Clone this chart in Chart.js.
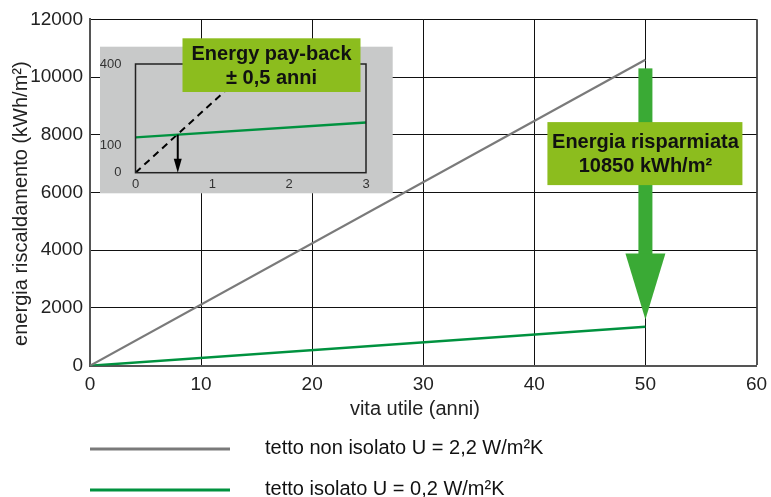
<!DOCTYPE html>
<html>
<head>
<meta charset="utf-8">
<script src="https://cdn.jsdelivr.net/npm/chart.js@4.4.0/dist/chart.umd.min.js"></script>
<style>
  html, body { margin: 0; padding: 0; background: #fff; }
  #wrap { position: relative; width: 771px; height: 497px; }
  #main { position: absolute; left: 0; top: 0; }
  #inset { position: absolute; left: 100px; top: 30px; }
</style>
</head>
<body>
<div id="wrap">
  <canvas id="main" width="771" height="497"></canvas>
  <canvas id="inset" width="300" height="170"></canvas>
</div>
<script>
// main chart data
const years = [0, 50];
const uninsulated = [0, 10600];
const insulated = [0, 1350];
const seriesLabels = ["tetto non isolato U = 2,2 W/m²K", "tetto isolato U = 0,2 W/m²K"];
const xTicks = [0, 10, 20, 30, 40, 50, 60];
const yTicks = [0, 2000, 4000, 6000, 8000, 10000, 12000];

// saved energy arrow (year, from, to)
const savingYear = 50;
const savingFrom = 10300;
const savingTo = 1600;
const savingLabel = ["Energia risparmiata", "10850 kWh/m²"];

// inset: first 3 years
const insetYears = [0, 3];
const insetInsulated = [130, 185];
const paybackYears = [0, 1.55];
const paybackEnergy = [0, 400];
const paybackYear = 0.55;
const insetXTicks = [0, 1, 2, 3];
const insetYTicks = [0, 100, 400];
const paybackLabel = ["Energy pay-back", "± 0,5 anni"];

const FONT = '"Liberation Sans", Arial, sans-serif';
const GREEN = "#00923f";
const GREY = "#7a7a7a";
const BOX = "#8cbd1e";
const ARROW = "#3aaa35";
const NBSP = "\u00a0";

function pairs(xs, ys) {
  return xs.map((x, i) => ({ x: x, y: ys[i] }));
}

// Arrow, label box and legend for the main chart
const mainDecor = {
  id: "mainDecor",
  afterDatasetsDraw(chart) {
    const { ctx } = chart;
    const x = chart.scales.x;
    const y = chart.scales.y;
    const cx = x.getPixelForValue(savingYear);
    const top = y.getPixelForValue(savingFrom);
    const tip = y.getPixelForValue(savingTo);
    const headTop = tip - 66;

    ctx.save();
    ctx.fillStyle = ARROW;
    ctx.fillRect(cx - 7, top, 14, headTop - top + 1);
    ctx.beginPath();
    ctx.moveTo(cx - 20, headTop);
    ctx.lineTo(cx + 20, headTop);
    ctx.lineTo(cx, tip);
    ctx.closePath();
    ctx.fill();

    // label box over the arrow
    const by = y.getPixelForValue(7330);
    ctx.fillStyle = BOX;
    ctx.fillRect(cx - 98, by - 32, 195, 63);
    ctx.fillStyle = "#111";
    ctx.font = "bold 20px " + FONT;
    ctx.textAlign = "center";
    ctx.textBaseline = "middle";
    ctx.fillText(savingLabel[0], cx, by - 12);
    ctx.fillText(savingLabel[1], cx, by + 12);

    // legend, one row per series
    chart.data.datasets.forEach((ds, i) => {
      const ly = 449 + i * 41;
      ctx.strokeStyle = ds.borderColor;
      ctx.lineWidth = 3;
      ctx.beginPath();
      ctx.moveTo(90, ly);
      ctx.lineTo(230, ly);
      ctx.stroke();
      ctx.fillStyle = "#111";
      ctx.font = "20px " + FONT;
      ctx.textAlign = "left";
      ctx.fillText(ds.label, 265, ly - 1);
    });
    ctx.restore();
  },
};

new Chart(document.getElementById("main"), {
  type: "line",
  data: {
    datasets: [
      {
        label: seriesLabels[0],
        data: pairs(years, uninsulated),
        borderColor: GREY,
        borderWidth: 2.2,
        pointRadius: 0,
      },
      {
        label: seriesLabels[1],
        data: pairs(years, insulated),
        borderColor: GREEN,
        borderWidth: 2.5,
        pointRadius: 0,
      },
    ],
  },
  options: {
    responsive: false,
    animation: false,
    layout: { padding: { left: 0, right: 14.5, top: 19.3, bottom: 76 } },
    plugins: { legend: { display: false }, tooltip: { enabled: false } },
    scales: {
      x: {
        type: "linear",
        min: 0,
        max: 60,
        afterBuildTicks: (s) => { s.ticks = xTicks.map((v) => ({ value: v })); },
        afterFit: (s) => {
          s.height = 55.3;
          s.paddingLeft = 0;
          s.paddingRight = 0;
        },
        grid: {
          drawTicks: false,
          color: (c) => (c.tick && c.tick.value === 60 ? "#555" : "#111"),
          lineWidth: (c) => (c.tick && c.tick.value === 60 ? 2 : 1),
        },
        border: { color: "#555", width: 2 },
        ticks: { padding: 8, color: "#222", font: { family: FONT, size: 19 } },
        title: {
          display: true,
          text: "vita utile (anni)" + NBSP.repeat(3),
          color: "#222",
          padding: { top: 4, bottom: 0 },
          font: { family: FONT, size: 20 },
        },
      },
      y: {
        min: 0,
        max: 12000,
        afterBuildTicks: (s) => { s.ticks = yTicks.map((v) => ({ value: v })); },
        afterFit: (s) => { s.width = 90; },
        grid: { drawTicks: false, color: "#111", lineWidth: 1 },
        border: { color: "#555", width: 2 },
        ticks: {
          padding: 7,
          color: "#222",
          font: { family: FONT, size: 19 },
          callback: (v) => String(v),
        },
        title: {
          display: true,
          text: "energia riscaldamento (kWh/m²)" + NBSP.repeat(4),
          color: "#222",
          padding: { top: 9, bottom: 0 },
          font: { family: FONT, size: 20 },
        },
      },
    },
  },
  plugins: [mainDecor],
});

// Grey panel, frame, arrow and label of the inset
const insetDecor = {
  id: "insetDecor",
  beforeDraw(chart) {
    const { ctx } = chart;
    ctx.save();
    ctx.fillStyle = "#c8c9c9";
    ctx.fillRect(0, 16.7, 292.7, 146.6);
    ctx.restore();
  },
  afterDatasetsDraw(chart) {
    const { ctx, chartArea: a } = chart;
    const x = chart.scales.x;
    const y = chart.scales.y;
    ctx.save();
    ctx.strokeStyle = "#222";
    ctx.lineWidth = 1.5;
    ctx.strokeRect(a.left, a.top, a.right - a.left, a.bottom - a.top);

    // pay-back arrow down to the x axis
    const ratio = (paybackYear - insetYears[0]) / (insetYears[1] - insetYears[0]);
    const greenAt = insetInsulated[0] + ratio * (insetInsulated[1] - insetInsulated[0]);
    const px = x.getPixelForValue(paybackYear);
    const py = y.getPixelForValue(greenAt);
    const base = y.getPixelForValue(0);
    ctx.strokeStyle = "#000";
    ctx.fillStyle = "#000";
    ctx.lineWidth = 2;
    ctx.beginPath();
    ctx.moveTo(px, py);
    ctx.lineTo(px, base - 12);
    ctx.stroke();
    ctx.beginPath();
    ctx.moveTo(px - 4, base - 14);
    ctx.lineTo(px + 4, base - 14);
    ctx.lineTo(px, base);
    ctx.closePath();
    ctx.fill();

    // label box, partly above the grey panel
    const bx = a.left + 47;
    const bt = a.top - 25.7;
    ctx.fillStyle = BOX;
    ctx.fillRect(bx, bt, 178, 53.7);
    ctx.fillStyle = "#111";
    ctx.font = "bold 20px " + FONT;
    ctx.textAlign = "center";
    ctx.textBaseline = "middle";
    ctx.fillText(paybackLabel[0], bx + 89, bt + 16.5);
    ctx.fillText(paybackLabel[1], bx + 89, bt + 40);
    ctx.restore();
  },
};

new Chart(document.getElementById("inset"), {
  type: "line",
  data: {
    datasets: [
      {
        data: pairs(insetYears, insetInsulated),
        borderColor: GREEN,
        borderWidth: 2.5,
        pointRadius: 0,
      },
      {
        data: pairs(paybackYears, paybackEnergy),
        borderColor: "#000",
        borderWidth: 2,
        borderDash: [7, 5],
        pointRadius: [2, 0],
        pointBackgroundColor: "#000",
        pointBorderWidth: 0,
      },
    ],
  },
  options: {
    responsive: false,
    animation: false,
    layout: { padding: { left: 0, right: 34, top: 34, bottom: 0 } },
    plugins: { legend: { display: false }, tooltip: { enabled: false } },
    scales: {
      x: {
        type: "linear",
        min: 0,
        max: 3,
        afterBuildTicks: (s) => { s.ticks = insetXTicks.map((v) => ({ value: v })); },
        afterFit: (s) => {
          s.height = 27.3;
          s.paddingLeft = 0;
          s.paddingRight = 0;
        },
        grid: { display: false },
        border: { display: false },
        ticks: { padding: -4, color: "#333", font: { family: FONT, size: 13 } },
      },
      y: {
        min: 0,
        max: 400,
        afterBuildTicks: (s) => { s.ticks = insetYTicks.map((v) => ({ value: v })); },
        afterFit: (s) => { s.width = 35.5; },
        grid: { display: false },
        border: { display: false },
        ticks: { padding: 6, color: "#333", font: { family: FONT, size: 13 } },
      },
    },
  },
  plugins: [insetDecor],
});
</script>
</body>
</html>
